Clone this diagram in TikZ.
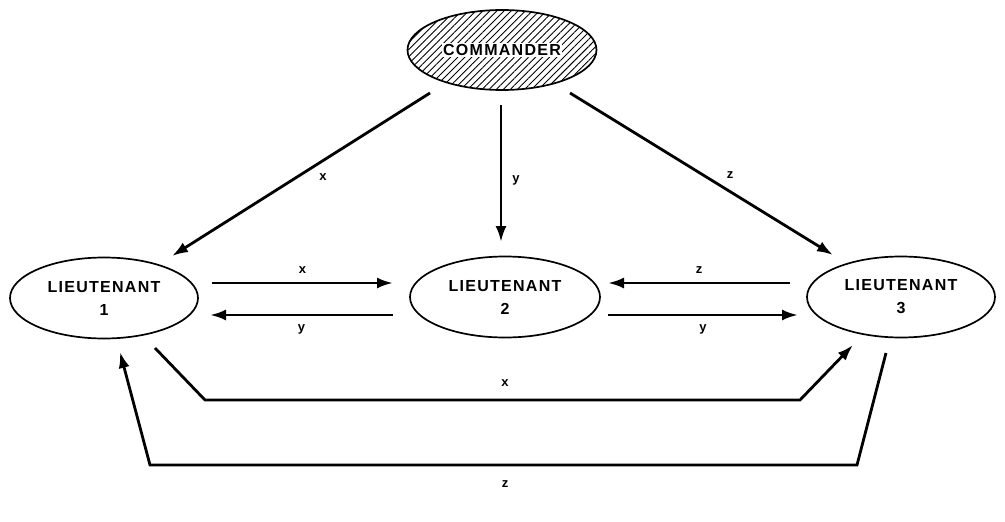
\documentclass[tikz,border=0pt]{standalone}
\usepackage{fontspec}
\setmainfont{Liberation Sans}[LetterSpace=8]
\newfontfamily\lblfont{Liberation Sans}
\usetikzlibrary{arrows.meta,shapes.geometric,patterns.meta,calc}
\begin{document}
\begin{tikzpicture}[x=1pt,y=-1pt,
  oval/.style={ellipse,draw,line width=1.7pt,minimum width=188pt,minimum height=81pt,inner sep=0pt,
     align=center,font=\bfseries\fontsize{16}{23}\selectfont},
  conn/.style={line width=2.8pt,-{Latex[length=16pt,width=11pt]}},
  lbl/.style={font=\lblfont\bfseries\fontsize{13}{13}\selectfont,inner sep=0pt}]
\useasboundingbox (0,0) rectangle (1005,522);
\node[oval,pattern={Lines[angle=45,distance=5pt,line width=0.9pt]},minimum width=189pt,minimum height=80pt] (C) at (502,50) {};
\node[fill=white,inner sep=1.5pt,font=\bfseries\fontsize{16}{23}\selectfont] (CT) at (C.center) {COMMANDER};
\node[oval] (L1) at (104,298) {LIEUTENANT\\1};
\node[oval,minimum width=190pt] (L2) at (505,297) {LIEUTENANT\\2};
\node[oval] (L3) at (901,297) {LIEUTENANT\\3};
% commander to lieutenants
\draw[conn] ($(C.center)+(-72,43)$) -- ($(L1.center)+(68,-42)$);
\draw[conn] ($(C.center)+(-1,55)$) -- ($(L2.center)+(-4,-55)$);
\draw[conn] ($(C.center)+(68,43)$) -- ($(L3.center)+(-68,-42)$);
\node[lbl] (lx1) at (323,177) {x};
\node[lbl] (ly1) at (516,180) {y};
\node[lbl] (lz1) at (730,175) {z};
% between lieutenants
\draw[conn] ($(L1.center)+(108,-15)$) -- node[lbl,above=8pt] {x} ($(L2.center)+(-112,-14)$);
\draw[conn] ($(L2.center)+(-112,18)$) -- node[lbl,below=8pt] {y} ($(L1.center)+(106,17)$);
\draw[conn] ($(L3.center)+(-111,-14)$) -- node[lbl,above=8pt] {z} ($(L2.center)+(103,-14)$);
\draw[conn] ($(L2.center)+(103,18)$) -- node[lbl,below=8pt] {y} ($(L3.center)+(-103,18)$);
% bottom relays
\draw[conn] ($(L1.center)+(51,50)$) -- (205,400) -- (800,400) -- ($(L3.center)+(-48,48)$);
\node[lbl] (lx2) at (505,383) {x};
\draw[conn] ($(L3.center)+(-15,56)$) -- (857,465) -- (150,465) -- ($(L1.center)+(16,54)$);
\node[lbl] (lz2) at (505,484) {z};
\end{tikzpicture}
\end{document}
